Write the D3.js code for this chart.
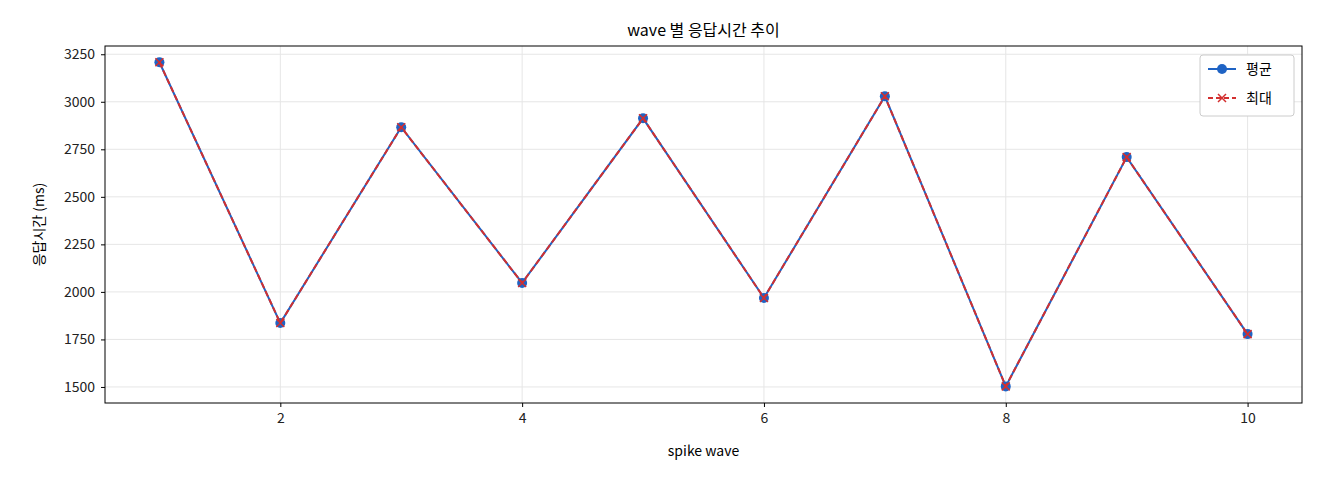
<!DOCTYPE html>
<html><head><meta charset="utf-8">
<script src="https://cdn.jsdelivr.net/npm/d3@7"></script>
<style>body{margin:0;background:#fff}text{font-family:"Noto Sans CJK KR","Noto Sans",sans-serif}</style>
</head><body><svg id="c" width="1320" height="480"></svg>
<script>
const waves=[1,2,3,4,5,6,7,8,9,10];
const avgVals=[3208,1836,2866,2047,2913,1968,3029,1503,2709,1778];
const maxVals=[3208,1836,2866,2047,2913,1968,3029,1503,2709,1778];
const yTicks=[1500,1750,2000,2250,2500,2750,3000,3250];
const xTicks=[2,4,6,8,10];
const svg=d3.select("#c");
const L=105,R=1302,T=46,B=403;
const x=d3.scaleLinear().domain([0.55,10.45]).range([L,R]);
const y=d3.scaleLinear().domain([1415.6,3293.4]).range([B,T]);
const g=svg.append("g");
g.selectAll(".gx").data(xTicks).join("line").attr("x1",d=>x(d)).attr("x2",d=>x(d)).attr("y1",T).attr("y2",B).attr("stroke","#e6e6e6");
g.selectAll(".gy").data(yTicks).join("line").attr("y1",d=>y(d)).attr("y2",d=>y(d)).attr("x1",L).attr("x2",R).attr("stroke","#e6e6e6");
const xa=svg.append("g").attr("transform",`translate(0,${B})`).call(d3.axisBottom(x).tickValues(xTicks).tickFormat(d3.format("d")).tickSize(4).tickPadding(6));
const ya=svg.append("g").attr("transform",`translate(${L},0)`).call(d3.axisLeft(y).tickValues(yTicks).tickFormat(d3.format("d")).tickSize(4).tickPadding(6));
[xa,ya].forEach(a=>{a.select(".domain").remove();a.selectAll("line").attr("stroke","#000");a.selectAll("text").attr("font-size",14).attr("fill","#222");});
svg.append("rect").attr("x",L).attr("y",T).attr("width",R-L).attr("height",B-T).attr("fill","none").attr("stroke","#000");
const line=d3.line().x((d,i)=>x(waves[i])).y(d=>y(d));
svg.append("path").attr("d",line(avgVals)).attr("fill","none").attr("stroke","#1f63c4").attr("stroke-width",2);
svg.selectAll(".p").data(avgVals).join("circle").attr("cx",(d,i)=>x(waves[i])).attr("cy",d=>y(d)).attr("r",5).attr("fill","#1f63c4");
svg.append("path").attr("d",line(maxVals)).attr("fill","none").attr("stroke","#d32f2f").attr("stroke-width",2).attr("stroke-dasharray","6,3");
maxVals.forEach((d,i)=>{const cx=x(waves[i]),cy=y(d);svg.append("path").attr("d",`M${cx-4},${cy-4}L${cx+4},${cy+4}M${cx-4},${cy+4}L${cx+4},${cy-4}`).attr("stroke","#d32f2f").attr("stroke-width",1.5);});
svg.append("text").attr("x",(L+R)/2).attr("y",36).attr("text-anchor","middle").attr("font-size",16).text("wave 별 응답시간 추이");
svg.append("text").attr("x",(L+R)/2).attr("y",456).attr("text-anchor","middle").attr("font-size",14).text("spike wave");
svg.append("text").attr("transform",`translate(44,${(T+B)/2}) rotate(-90)`).attr("text-anchor","middle").attr("font-size",14).text("응답시간 (ms)");
const lg=svg.append("g").attr("transform","translate(1200,55)");
lg.append("rect").attr("width",94).attr("height",61).attr("rx",3).attr("fill","#fff").attr("stroke","#ccc");
lg.append("line").attr("x1",8).attr("x2",36).attr("y1",14).attr("y2",14).attr("stroke","#1f63c4").attr("stroke-width",2);
lg.append("circle").attr("cx",22).attr("cy",14).attr("r",5).attr("fill","#1f63c4");
lg.append("text").attr("x",46).attr("y",19).attr("font-size",14).text("평균");
lg.append("line").attr("x1",8).attr("x2",36).attr("y1",43).attr("y2",43).attr("stroke","#d32f2f").attr("stroke-width",2).attr("stroke-dasharray","5,3");
lg.append("path").attr("d","M18,39L26,47M18,47L26,39").attr("stroke","#d32f2f").attr("stroke-width",1.5);
lg.append("text").attr("x",46).attr("y",48).attr("font-size",14).text("최대");
</script></body></html>
